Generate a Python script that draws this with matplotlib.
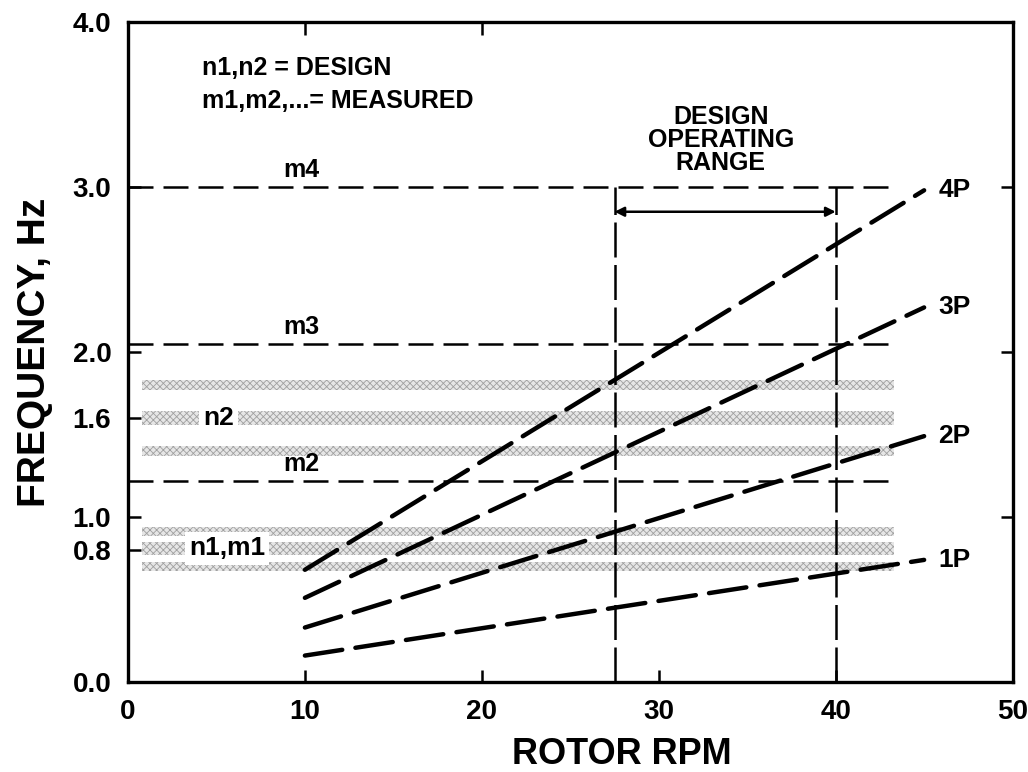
import matplotlib
matplotlib.use("Agg")
import matplotlib.pyplot as plt

plt.rcParams['font.family'] = ['Liberation Sans', 'DejaVu Sans']
plt.rcParams['font.weight'] = 'bold'
plt.rcParams['axes.labelweight'] = 'bold'
plt.rcParams['hatch.linewidth'] = 0.6

# per-rev excitation lines
harmonics = ['1P', '2P', '3P', '4P']
rpm_span = [10, 45]
p_start = [0.16, 0.33, 0.51, 0.68]
p_end = [0.74, 1.49, 2.27, 2.98]

# measured modes (dashed horizontals)
m_names = ['m4', 'm3', 'm2']
m_freq = [3.0, 2.05, 1.22]
m_xmax = 43.5

# design bands, three stippled stripes each
band_names = ['n2', 'n1,m1']
band_centers = [[1.80, 1.60, 1.40], [0.91, 0.81, 0.70]]
band_x = [0.8, 43.3]

# design operating range
op_range = [27.5, 40.0]

yticks = [0.0, 0.8, 1.0, 1.6, 2.0, 3.0, 4.0]
ytick_labels = ['0.0', '0.8', '1.0', '1.6', '2.0', '3.0', '4.0']
xticks = [0, 10, 20, 30, 40, 50]

fig = plt.figure(figsize=(10.28, 7.72), dpi=100)
ax = fig.add_axes([0.1245, 0.1166, 0.8605, 0.8549])
ax.set_xlim(0, 50)
ax.set_ylim(0, 4)

# stippled bands
for centers in band_centers:
    for c, h in zip(centers, [0.055, 0.08, 0.055]):
        ax.fill_between(band_x, c - h / 2, c + h / 2, facecolor='#e6e6e6',
                        edgecolor='#a0a0a0', hatch='xxxxx', linewidth=0, zorder=1)

# measured lines
for name, f in zip(m_names, m_freq):
    ax.plot([0, m_xmax], [f, f], color='black', lw=1.8, dashes=(10, 4), zorder=2)
    ax.text(9.8, f + 0.03, name, fontsize=18, ha='center', va='bottom', zorder=4)

# operating range verticals
for xv in op_range:
    ax.plot([xv, xv], [0, 3.0], color='black', lw=1.8, dashes=(14, 3), zorder=2)
ax.annotate('', xy=(op_range[0], 2.85), xytext=(op_range[1], 2.85),
            arrowprops=dict(arrowstyle='<|-|>', color='black', lw=1.8,
                            shrinkA=0, shrinkB=0, mutation_scale=14))
ax.text(33.5, 3.07, 'DESIGN\nOPERATING\nRANGE', fontsize=18, ha='center',
        va='bottom', linespacing=0.95)

# harmonic lines
for name, y0, y1 in zip(harmonics, p_start, p_end):
    ax.plot(rpm_span, [y0, y1], color='black', lw=3.2, dashes=(8.5, 3),
            dash_capstyle='round', zorder=3)
    ax.text(rpm_span[1] + 0.8, y1, name, fontsize=19, ha='left', va='center')

# band labels
ax.text(5.1, 1.60, 'n2', fontsize=19, ha='center', va='center', zorder=4,
        bbox=dict(facecolor='white', edgecolor='none', pad=3))
ax.text(5.6, 0.81, 'n1,m1', fontsize=19, ha='center', va='center', zorder=4,
        bbox=dict(facecolor='white', edgecolor='none', pad=3))

ax.text(4.2, 3.72, 'n1,n2 = DESIGN', fontsize=18, ha='left', va='center')
ax.text(4.2, 3.52, 'm1,m2,...= MEASURED', fontsize=18, ha='left', va='center')

for s in ax.spines.values():
    s.set_linewidth(2.4)

ax.set_xticks(xticks)
ax.set_xticklabels([str(v) for v in xticks])
ax.set_yticks(yticks)
ax.set_yticklabels(ytick_labels)
ax.tick_params(direction='in', length=9, width=1.8, labelsize=20, pad=12)

# extra ticks on top and right
top = ax.secondary_xaxis('top')
top.set_xticks([10, 20])
top.tick_params(direction='in', length=9, width=1.8, labeltop=False)
right = ax.secondary_yaxis('right')
right.set_yticks([1.0, 2.0, 3.0])
right.tick_params(direction='in', length=9, width=1.8, labelright=False)

ax.set_xlabel('ROTOR RPM', fontsize=26)
ax.set_ylabel('FREQUENCY, Hz', fontsize=28)
ax.xaxis.set_label_coords(0.558, -0.083)
ax.yaxis.set_label_coords(-0.085, 0.5)

fig.savefig('out.png', dpi=100)
